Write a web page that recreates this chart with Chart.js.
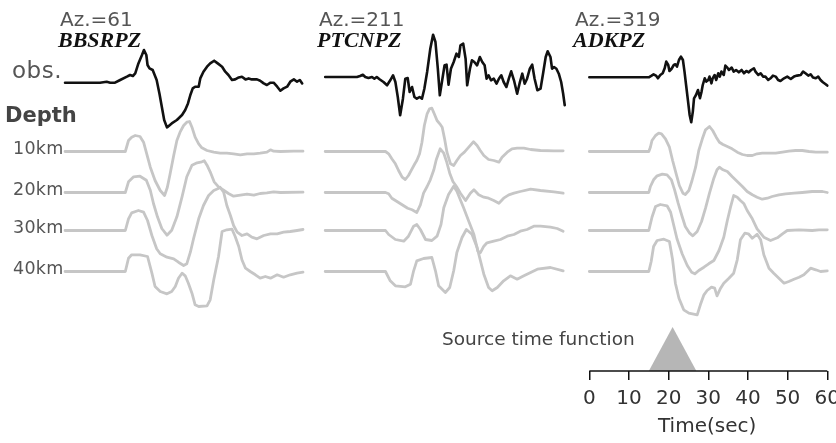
<!DOCTYPE html>
<html>
<head>
<meta charset="utf-8">
<script src="https://cdn.jsdelivr.net/npm/chart.js@4.4.1/dist/chart.umd.min.js"></script>
<style>
  html, body { margin: 0; padding: 0; background: #fff; }
</style>
</head>
<body>
<canvas id="chart" width="836" height="443"></canvas>
<script>
// ── DADOS ─────────────────────────────────────────────────────────────────
const STATIONS   = ['BBSRPZ', 'PTCNPZ', 'ADKPZ'];
const AZIMUTHS   = [61, 211, 319];
const DEPTHS     = [10, 20, 30, 40];
const TIME_TICKS = [0, 10, 20, 30, 40, 50, 60];

// registros observados, pares [tempo (s), amplitude]
const OBS_BBSRPZ = [[0,0],[8.8,0],[10.5,1],[11.4,0],[12.6,0],[13.9,2.7],[15.6,6],[16.4,7.7],[17.1,6.7],[17.7,9.3],[18.5,19.3],[19.4,27.7],[19.9,32.7],[20.5,27.7],[20.8,17.7],[21.3,14.3],[22.1,12.7],[23.1,2.7],[23.8,-10.7],[24.4,-24],[25.0,-37.3],[25.7,-44.7],[26.9,-40.7],[28.2,-37.3],[29.5,-32.3],[30.3,-27.3],[31.0,-20.7],[31.6,-12.3],[32.2,-5.7],[32.8,-4],[33.7,-4],[34.1,4.3],[34.9,11],[35.8,16],[36.6,19.3],[37.6,22],[38.5,19.3],[39.6,16],[40.4,11],[41.2,7.7],[42.1,2.7],[42.9,3.3],[43.8,5.3],[44.6,6],[45.5,3.3],[46.3,4.3],[47.1,3.3],[48.4,3.3],[49.2,2],[50.1,-0.7],[50.9,-2.3],[51.8,0],[52.6,0],[53.5,-4],[54.3,-8],[55.1,-5.7],[56.0,-4],[56.8,1],[57.7,3.3],[58.5,1],[59.2,2.7],[59.8,-0.7]];
const OBS_PTCNPZ = [[0,0],[8.0,0],[8.8,1],[9.5,2.3],[10.1,0],[10.9,-1],[11.8,0],[12.4,-1.7],[13.0,0],[13.7,-2.3],[14.7,-5],[15.6,-8.3],[16.4,-3.3],[17.1,1.7],[17.7,-5],[18.3,-20],[18.9,-38.3],[19.6,-21.7],[20.2,-1.7],[20.8,-1],[21.3,-15],[21.9,-10],[22.5,-20],[23.1,-21.7],[23.8,-20],[24.4,-21.7],[25.0,-11.7],[25.7,5],[26.5,28.3],[27.2,42.3],[27.8,35],[28.4,8.3],[28.9,-18.3],[29.5,-3.3],[30.1,11.7],[30.6,12.3],[31.1,-7.7],[31.7,8.3],[32.4,15],[33.1,23.3],[33.7,20],[34.1,31.7],[34.8,33.3],[35.4,18.3],[35.8,-8.3],[36.5,8.3],[37.0,16.7],[37.6,15],[38.3,11.7],[39.0,20],[39.6,15],[40.2,11.7],[40.7,-1.7],[41.2,1.7],[41.8,-3.3],[42.5,-1.7],[43.2,-6.7],[43.8,-1.7],[44.4,1.7],[45.0,-5],[45.7,-10],[46.3,-1.7],[46.9,5.7],[47.6,-3.3],[48.4,-16.7],[49.1,-5],[49.7,3.3],[50.3,-6.7],[50.9,-1.7],[51.6,8.3],[52.2,12.3],[52.8,-1.7],[53.5,-13.3],[54.3,-11.7],[55.0,5],[55.6,20],[56.1,25.7],[56.8,20],[57.2,8.3],[57.7,10],[58.3,8.3],[58.9,3.3],[59.5,-5],[60.0,-16.7],[60.4,-28.3]];
const OBS_ADKPZ = [[0,0],[15.0,0],[15.7,1.7],[16.2,3],[16.8,1.7],[17.3,-1],[17.9,2.3],[18.5,4],[19.0,9],[19.4,15.7],[19.9,12.3],[20.2,6.3],[20.7,8.3],[21.3,12.3],[21.7,13],[22.1,10.7],[22.6,17.3],[23.1,20.7],[23.6,17.3],[24.0,5.7],[24.4,-7.7],[24.9,-24.3],[25.3,-37.7],[25.7,-45],[26.1,-34.3],[26.4,-21],[26.9,-17.7],[27.4,-12.7],[27.9,-21],[28.3,-14.3],[28.6,-7.7],[29.1,-1],[29.5,-4.3],[30.0,-2.7],[30.3,0.7],[30.8,-6],[31.1,-1],[31.6,2.3],[32.0,-2.7],[32.5,4],[32.9,0.7],[33.3,5.7],[33.9,2.3],[34.3,11.7],[34.8,9.7],[35.2,7.3],[35.9,9.7],[36.4,5.7],[37.0,7.3],[37.7,5],[38.4,7.3],[39.0,4],[39.6,6.3],[40.2,5],[40.8,7.3],[41.5,9],[41.9,5.7],[42.6,2.3],[43.2,4],[43.8,0.7],[44.4,0.7],[45.1,-2.7],[45.7,-1],[46.3,1.7],[47.0,0.7],[47.6,-2.7],[48.2,-3.7],[49.1,-1],[49.9,0.7],[50.8,-1.7],[51.6,0.7],[52.4,1.7],[53.3,2.3],[53.9,5.7],[54.5,4],[55.2,1.7],[55.8,3],[56.4,-0.3],[57.1,-1],[57.7,0.7],[58.3,-2.7],[58.9,-5],[59.6,-7],[60.0,-8.3]];

// sintéticos por profundidade (10, 20, 30, 40 km)
const SYN_BBSRPZ = [
  [[0,0],[15.2,0],[16.0,11],[16.8,14.3],[17.7,16],[18.9,15],[19.8,9.3],[20.6,-2.3],[21.5,-15.7],[22.7,-29],[24.0,-39],[25.1,-44],[25.8,-35.7],[26.5,-22.3],[27.4,-4],[28.2,11],[29.0,19.3],[29.9,26],[30.7,29.3],[31.4,30],[32.0,24.3],[32.8,14.3],[33.7,7.7],[34.5,3.7],[35.8,1],[37.5,-0.7],[39.1,-1.7],[40.8,-1.7],[42.5,-2.3],[44.2,-3.3],[45.9,-2.3],[47.6,-2.3],[49.2,-1.7],[50.9,-0.7],[51.8,1.7],[52.6,0.3],[54.3,0],[57.7,0.3],[60,0.3]],
  [[0,0],[15.2,0],[16.0,10.7],[17.3,15.7],[18.9,16.3],[20.5,12.3],[21.5,2.3],[22.3,-11],[23.3,-24.3],[24.4,-36],[25.7,-42.7],[26.9,-37.7],[28.2,-24.3],[29.5,-4.3],[30.7,15.7],[32.0,27.3],[33.3,29.7],[34.5,30.7],[35.1,31.7],[35.8,27.3],[36.6,20.7],[37.6,10.7],[38.7,5.7],[40.0,2.3],[41.2,-1],[42.5,-3.7],[44.2,-2.7],[45.9,-1.7],[47.6,-2.7],[49.2,-1],[50.9,-0.3],[52.6,0.7],[54.3,0],[60,0.3]],
  [[0,0],[15.2,0],[16.0,11.7],[16.8,17.7],[18.5,20],[19.8,18.3],[20.8,10],[21.9,-5],[23.1,-18.3],[24.0,-23.3],[25.7,-26.7],[27.4,-28.3],[28.6,-31.7],[29.9,-35],[30.7,-33.3],[31.6,-21.7],[32.4,-8.3],[33.7,11.7],[34.9,25],[36.2,35],[37.5,40],[38.5,41.7],[39.1,43.3],[40.0,38.3],[40.8,25],[41.7,15],[42.5,5],[43.4,-1.7],[44.6,-5],[45.9,-3.3],[47.1,-6.7],[48.4,-8.3],[50.1,-5],[51.8,-3.3],[53.5,-3.3],[55.1,-1.7],[56.8,-1],[58.5,0],[60,1]],
  [[0,0],[15.2,0],[16.0,13.3],[16.8,16.7],[18.9,16.7],[20.8,15],[21.9,-1.7],[22.7,-15],[24.0,-20],[25.7,-22.3],[26.9,-20],[27.8,-15],[28.6,-6.7],[29.5,-1.7],[30.3,-4.3],[31.1,-11.7],[32.0,-21.7],[32.8,-33.3],[33.7,-35],[35.8,-34.3],[36.6,-28.3],[37.5,-8.3],[38.7,15],[39.6,40],[40.8,41.7],[42.1,42.3],[42.9,35],[43.8,25],[44.6,11.7],[45.5,3.3],[46.7,0],[48.0,-3.3],[49.2,-6.7],[50.5,-5],[51.8,-6.7],[53.5,-3.3],[55.1,-5.7],[56.8,-3.3],[58.5,-1.7],[60,-0.7]]
];
const SYN_PTCNPZ = [
  [[0,0],[15.2,0],[16.0,-2.3],[16.8,-7.3],[17.7,-12.3],[18.5,-19],[19.4,-25.7],[20.2,-28],[21.0,-24],[21.9,-17.3],[22.6,-12.3],[23.1,-9],[23.8,-2.3],[24.4,9.3],[25.0,26],[25.7,37.7],[26.3,42.7],[26.9,43.3],[27.5,37.7],[28.2,31],[28.9,27.7],[29.5,24.3],[30.1,12.7],[30.7,-0.7],[31.6,-12.3],[32.4,-14],[33.2,-9],[34.1,-4],[35.1,-0.7],[36.2,4.3],[37.4,9.7],[38.3,6],[39.1,1],[40.0,-4],[41.2,-8],[42.5,-9],[43.8,-10.7],[44.6,-5.7],[45.9,-0.7],[47.1,2.7],[48.4,3.3],[50.1,3.3],[51.8,2],[54.3,1],[57.7,0.7],[60,0.7]],
  [[0,0],[15.2,0],[16.0,-1.3],[16.8,-5.7],[18.1,-9],[19.4,-12.3],[20.8,-15.7],[21.9,-17.3],[23.1,-20],[24.0,-12.3],[24.8,-0.7],[25.7,6],[26.5,12.7],[27.4,22.7],[28.0,32.7],[29.0,43.7],[29.9,39.3],[30.6,31],[31.4,19.3],[32.2,11],[33.1,6],[34.1,-0.7],[35.4,-8],[36.6,-0.7],[37.5,2.7],[38.7,-2.3],[40.0,-4.7],[41.2,-5.7],[42.5,-8],[43.8,-10.7],[45.0,-5.7],[46.3,-2.3],[47.6,-0.7],[49.2,1],[51.8,3.3],[54.3,2],[57.7,0.7],[60,-0.7]],
  [[0,0],[15.2,0],[16.0,-4],[17.7,-9],[19.8,-10.7],[21.0,-5.7],[22.3,4.3],[23.1,6],[24.0,1],[25.3,-9],[26.9,-10],[28.2,-5.7],[29.2,6],[29.9,22.7],[31.1,36],[32.4,44.3],[33.2,39.3],[34.9,22.7],[36.2,9.3],[37.5,-4],[38.5,-20.7],[39.1,-22.3],[40.0,-15.7],[40.8,-12.3],[42.5,-10.7],[44.2,-9],[45.9,-5.7],[47.6,-4],[49.2,-0.7],[50.9,1],[52.6,4.3],[54.3,4.3],[56.8,3.3],[58.5,2],[60,-0.7]],
  [[0,0],[15.2,0],[16.4,-9.3],[17.7,-14.3],[20.2,-15.3],[21.5,-12.7],[22.3,0.7],[23.1,10.7],[24.8,13],[26.9,14],[27.8,0.7],[28.6,-14.3],[30.3,-21],[31.4,-16],[32.4,0.7],[33.2,19],[34.5,34],[35.6,42],[37.0,37.3],[38.3,24],[40.0,-2.7],[41.2,-16],[42.1,-19.3],[43.4,-16],[45.0,-9.3],[46.7,-4.3],[48.4,-7.7],[50.1,-4.3],[53.5,2.3],[56.8,4],[60,0.7]]
];
const SYN_ADKPZ = [
  [[0,0],[15.0,0],[15.4,4.3],[15.8,11],[16.7,16],[17.5,18.3],[18.2,17.7],[19.2,12.7],[20.2,4.3],[21.0,-9],[21.9,-22.3],[22.7,-34],[23.6,-41.7],[24.2,-43],[25.1,-39],[25.9,-29],[26.8,-15.7],[27.6,1],[28.5,12.7],[29.3,21.7],[30.3,25],[31.1,21],[32.0,14.3],[32.8,9.3],[33.7,7],[34.8,5],[36.0,2.7],[37.3,-0.7],[38.6,-3],[39.8,-4],[41.1,-4],[42.3,-2.3],[43.6,-1.7],[45.3,-1.7],[47.0,-1.7],[48.7,-0.7],[50.3,0.3],[52.0,1],[53.7,1],[55.4,0],[57.1,-0.7],[60,-0.7]],
  [[0,0],[15.0,0],[15.4,6],[16.2,12.7],[17.1,16.7],[18.4,18.3],[19.6,17.7],[20.7,12.7],[21.5,2.7],[22.4,-10.7],[23.4,-24],[24.2,-34],[25.3,-40.7],[26.1,-43.3],[27.2,-39],[28.3,-29],[29.3,-15.7],[30.3,-0.7],[31.4,14.3],[32.2,22.7],[32.8,25.3],[33.7,22.7],[34.8,21],[36.0,16],[37.3,11],[38.6,6],[39.8,1],[41.1,-2.3],[42.3,-4.7],[43.6,-6.7],[44.9,-5.7],[46.1,-4],[47.8,-2.3],[49.5,-1.3],[51.6,-0.7],[53.7,0],[56.2,1],[58.8,1],[60,0]],
  [[0,0],[15.0,0],[15.8,13.3],[16.7,24],[17.9,26],[19.6,24.7],[20.5,18.3],[21.3,5],[22.1,-8.3],[23.4,-23.3],[24.7,-35],[25.8,-41.7],[26.6,-43.3],[27.6,-40],[28.9,-36.7],[30.1,-33.3],[31.4,-30],[32.7,-20],[33.9,-6.7],[34.8,10],[35.6,23.3],[36.4,35],[37.3,33.3],[38.1,30],[39.0,26.7],[39.8,20],[41.1,11.7],[42.3,1.7],[44.0,-6.7],[45.7,-10],[47.4,-7.3],[48.7,-3.3],[49.9,0],[52.9,0.7],[56.2,0],[57.9,0.7],[60,0.7]],
  [[0,0],[15.0,0],[15.6,10],[16.2,25],[17.1,31],[18.8,32.3],[20.2,30],[21.0,11.7],[21.7,-11.7],[22.6,-26.7],[23.8,-38.3],[25.1,-41.7],[27.2,-43.3],[28.0,-33.3],[28.9,-23.3],[29.7,-19],[30.8,-15.7],[31.6,-16.7],[32.2,-24.3],[33.1,-16.7],[33.9,-11.7],[35.2,-6.7],[36.4,-1.7],[37.3,11.7],[38.1,31.7],[39.2,38.3],[40.1,37.7],[41.1,33.3],[42.3,37.3],[43.2,31.7],[44.0,16.7],[45.3,3.3],[46.5,-1.7],[47.8,-6.7],[49.1,-11.7],[50.3,-10],[51.6,-7.7],[52.9,-5.7],[54.1,-3.3],[55.8,3.3],[57.1,1.7],[58.3,0],[60,0.7]]
];

// função fonte (triângulo), amplitude normalizada
const STF = [[15, 0], [21, 1], [27, 0]];

// ── LAYOUT ────────────────────────────────────────────────────────────────
const SHIFT    = [-132.2, -66.6, 0];     // deslocamento (s) de cada estação no eixo comum
const OBS_ROW  = [82.7, 77, 77.3];       // linha de base dos registros (px a partir do topo)
const SYN_ROW  = [151.5, 192.5, 230.5, 271.5];
const STF_ROW  = 371;
const STF_HEIGHT = 44;

const BLACK = '#111';
const GRAY  = '#c6c6c6';
const SANS  = "'DejaVu Sans', sans-serif";

function trace(points, shift, row, color, width) {
  return {
    data: points.map(([t, a]) => ({ x: t + shift, y: a - row })),
    borderColor: color, borderWidth: width, pointRadius: 0, tension: 0,
    borderJoinStyle: 'round', borderCapStyle: 'round', fill: false, clip: false
  };
}

const SYN = [SYN_BBSRPZ, SYN_PTCNPZ, SYN_ADKPZ];
const OBS = [OBS_BBSRPZ, OBS_PTCNPZ, OBS_ADKPZ];
const datasets = [];

datasets.push({
  data: STF.map(([t, a]) => ({ x: t, y: a * STF_HEIGHT - STF_ROW })),
  borderWidth: 0, pointRadius: 0, backgroundColor: '#b6b6b6',
  fill: { value: -STF_ROW }, clip: false
});
SYN.forEach((rows, s) => rows.forEach((pts, d) => datasets.push(trace(pts, SHIFT[s], SYN_ROW[d], GRAY, 2.8))));
OBS.forEach((pts, s) => datasets.push(trace(pts, SHIFT[s], OBS_ROW[s], BLACK, 2.6)));

// ── TEXTOS E LINHA DO EIXO ────────────────────────────────────────────────
const STATION_X = [58, 317, 573];

const decor = {
  id: 'decor',
  afterDatasetsDraw(chart) {
    const { ctx, scales: { x, y } } = chart;
    const base = y.getPixelForValue(-STF_ROW);
    ctx.save();
    ctx.strokeStyle = '#111';
    ctx.lineWidth = 1.5;
    ctx.beginPath();
    ctx.moveTo(x.getPixelForValue(TIME_TICKS[0]), base);
    ctx.lineTo(x.getPixelForValue(TIME_TICKS[TIME_TICKS.length - 1]), base);
    ctx.stroke();

    ctx.textBaseline = 'alphabetic';
    ctx.textAlign = 'left';
    STATIONS.forEach((name, i) => {
      ctx.fillStyle = '#555';
      ctx.font = `20px ${SANS}`;
      ctx.fillText('Az.=' + AZIMUTHS[i], STATION_X[i] + 2, 25.5);
      ctx.fillStyle = '#111';
      ctx.font = "italic bold 22px 'Liberation Serif', serif";
      ctx.fillText(name, STATION_X[i], 46.5);
    });

    ctx.fillStyle = '#555';
    ctx.font = `23px ${SANS}`;
    ctx.letterSpacing = '0.5px';
    ctx.fillText('obs.', 12, 78.3);

    ctx.fillStyle = '#444';
    ctx.font = `bold 21px ${SANS}`;
    ctx.letterSpacing = '0px';
    ctx.fillText('Depth', 5, 121.7);

    ctx.fillStyle = '#555';
    ctx.font = `17.5px ${SANS}`;
    ctx.letterSpacing = '0.3px';
    DEPTHS.forEach((d, i) => ctx.fillText(d + 'km', 13, SYN_ROW[i] + 2));
    ctx.letterSpacing = '0px';

    ctx.fillStyle = '#444';
    ctx.font = `18.5px ${SANS}`;
    ctx.fillText('Source time function', 442, 345);

    ctx.fillStyle = '#333';
    ctx.font = `20px ${SANS}`;
    ctx.fillText('Time(sec)', 658, 432);
    ctx.restore();
  }
};

new Chart(document.getElementById('chart'), {
  type: 'line',
  data: { datasets },
  options: {
    responsive: false, animation: false,
    layout: { padding: 0 },
    plugins: { legend: { display: false }, tooltip: { enabled: false } },
    scales: {
      x: {
        type: 'linear', min: -148.6, max: 62.2,
        afterBuildTicks: axis => { axis.ticks = TIME_TICKS.map(v => ({ value: v })); },
        afterFit: axis => { axis.height = 72; axis.paddingLeft = 0; axis.paddingRight = 0; },
        border: { display: false },
        grid: { drawOnChartArea: false, drawTicks: true, tickLength: 9, color: '#111', lineWidth: 1.5 },
        ticks: { color: '#333', font: { family: SANS, size: 20 }, padding: 7, maxRotation: 0, autoSkip: false }
      },
      y: { display: false, min: -STF_ROW, max: 0 }
    }
  },
  plugins: [decor]
});
</script>
</body>
</html>
